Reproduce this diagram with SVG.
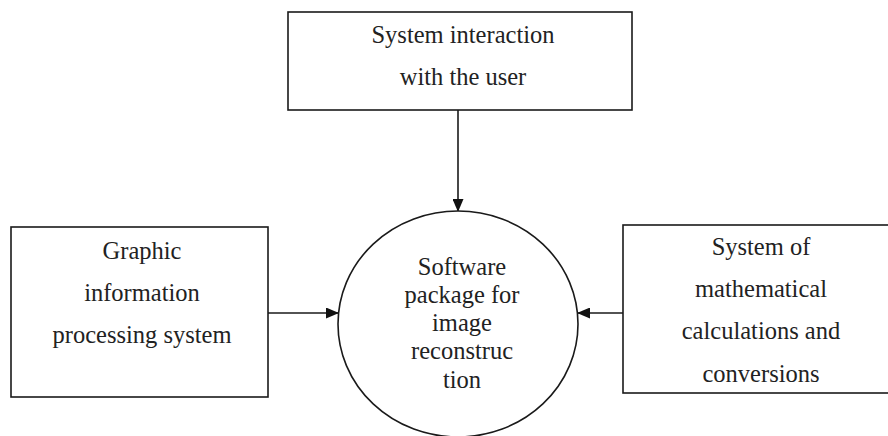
<svg xmlns="http://www.w3.org/2000/svg" width="888" height="436" viewBox="0 0 888 436">
<style>
.box{fill:#fff;stroke:#1a1a1a;stroke-width:1.6}
.t{font-family:"Liberation Serif","Times New Roman",serif;font-size:24.5px;fill:#222;text-anchor:middle}
.c{stroke:#1a1a1a;stroke-width:1.6;fill:none}
</style>
<defs>
<marker id="ah" markerWidth="13" markerHeight="11" refX="12" refY="5.5" orient="auto" markerUnits="userSpaceOnUse">
<path d="M0,0 L13,5.5 L0,11 Z" fill="#111"/>
</marker>
</defs>
<rect width="888" height="436" fill="#fff"/>
<g id="connectors">
<line class="c" x1="458" y1="110" x2="458" y2="211" marker-end="url(#ah)"/>
<line class="c" x1="268" y1="313" x2="338" y2="313" marker-end="url(#ah)"/>
<line class="c" x1="623" y1="313" x2="578" y2="313" marker-end="url(#ah)"/>
</g>
<g id="user">
<rect class="box" x="288" y="12" width="344" height="98"/>
<text class="t" x="463" y="43">System interaction</text>
<text class="t" x="463" y="85">with the user</text>
</g>
<g id="graphic">
<rect class="box" x="11" y="227" width="257" height="170"/>
<text class="t" x="142" y="259">Graphic</text>
<text class="t" x="142" y="301">information</text>
<text class="t" x="142" y="343">processing system</text>
</g>
<g id="software">
<ellipse class="box" cx="458" cy="324" rx="120" ry="113"/>
<text class="t" x="462" y="275">Software</text>
<text class="t" x="462" y="303">package for</text>
<text class="t" x="462" y="331">image</text>
<text class="t" x="462" y="359">reconstruc</text>
<text class="t" x="462" y="388">tion</text>
</g>
<g id="math">
<rect class="box" x="623" y="225" width="270" height="168"/>
<text class="t" x="761" y="255">System of</text>
<text class="t" x="761" y="297">mathematical</text>
<text class="t" x="761" y="339">calculations and</text>
<text class="t" x="761" y="382">conversions</text>
</g>
</svg>
